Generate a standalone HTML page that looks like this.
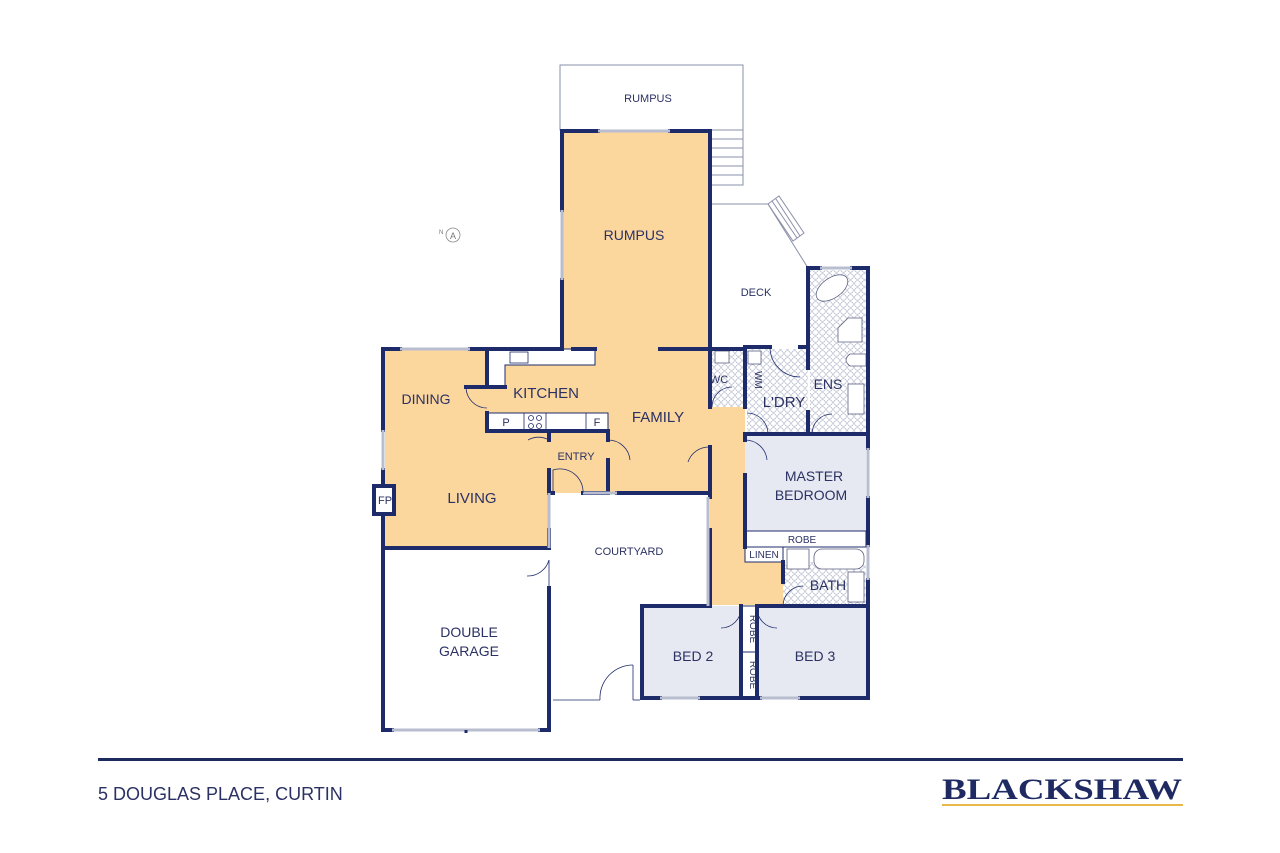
<!DOCTYPE html>
<html><head><meta charset="utf-8"><style>
html,body{margin:0;padding:0;background:#fff;}
svg{display:block;}
text{font-family:"Liberation Sans",sans-serif;fill:#2b3163;}
</style></head><body>
<svg width="1280" height="853" viewBox="0 0 1280 853" xmlns="http://www.w3.org/2000/svg">
<defs>
<pattern id="tile" width="7" height="7" patternUnits="userSpaceOnUse">
<rect width="7" height="7" fill="#fff"/>
<circle cx="3.5" cy="3.5" r="2.8" fill="none" stroke="#aab0c6" stroke-width="0.6"/>
</pattern>
</defs>

<rect x="560" y="65" width="183" height="65" fill="none" stroke="#8a8fa8" stroke-width="1"/>
<g stroke="#8a8fa8" stroke-width="1" fill="none">
<rect x="710" y="130" width="33" height="55"/>
<line x1="710" y1="139" x2="743" y2="139"/><line x1="710" y1="148" x2="743" y2="148"/>
<line x1="710" y1="157" x2="743" y2="157"/><line x1="710" y1="166" x2="743" y2="166"/>
<line x1="710" y1="175" x2="743" y2="175"/>
<polyline points="710,204 768,204 808,268"/>
<polygon points="768,204 779,196 804,233 793,241"/>
<line x1="772" y1="201" x2="797" y2="238"/><line x1="776" y1="199" x2="800" y2="236"/>
</g>

<g fill="#fbd79e">
<rect x="562" y="132" width="148" height="217"/>
<rect x="385" y="349" width="325" height="144"/>
<rect x="385" y="490" width="164" height="58"/>
<rect x="710" y="407" width="35" height="198"/>
<rect x="710" y="562" width="73" height="43"/>
</g>
<g fill="#fff" stroke="#1e2b6b" stroke-width="1">
<path d="M487,349 H595 V365 H505 V387 H487 Z"/>
<rect x="487" y="413" width="121" height="18"/>
</g>
<g stroke="#1e2b6b" stroke-width="0.8" fill="none">
<line x1="524" y1="413" x2="524" y2="431"/><line x1="546" y1="413" x2="546" y2="431"/><line x1="586" y1="413" x2="586" y2="431"/>
<rect x="510" y="352" width="18" height="11"/>
<circle cx="531" cy="418" r="2.5"/><circle cx="539" cy="418" r="2.5"/><circle cx="531" cy="426" r="2.5"/><circle cx="539" cy="426" r="2.5"/>
</g>
<rect x="712" y="349" width="33" height="58" fill="url(#tile)"/>
<rect x="747" y="349" width="61" height="85" fill="url(#tile)"/>
<rect x="810" y="270" width="56" height="164" fill="url(#tile)"/>
<rect x="783" y="562" width="83" height="44" fill="url(#tile)"/>
<g fill="#e6e9f1">
<rect x="745" y="434" width="121" height="97"/>
<rect x="642" y="606" width="99" height="92"/>
<rect x="757" y="606" width="111" height="92"/>
</g>
<g fill="#fff" stroke="#1e2b6b" stroke-width="1">
<rect x="745" y="531" width="121" height="16"/>
<rect x="745" y="547" width="38" height="15"/>
<rect x="741" y="606" width="16" height="46"/>
<rect x="741" y="652" width="16" height="46"/>
</g>
<g stroke="#5a6080" stroke-width="0.8" fill="#fff">
<ellipse cx="832" cy="288" rx="18" ry="10" transform="rotate(-35 832 288)"/>
<path d="M848,318 H862 V342 H838 V328 Z"/>
<path d="M850,354 H866 V366 H850 Q842,360 850,354 Z"/>
<rect x="848" y="384" width="16" height="30"/>
<rect x="715" y="351" width="14" height="12"/>
<rect x="748" y="351" width="13" height="13"/>
<rect x="787" y="549" width="22" height="20"/>
<rect x="814" y="549" width="50" height="20" rx="8"/>
<rect x="848" y="572" width="16" height="30"/>
</g>

<g stroke="#1e2b6b" stroke-width="4" fill="none" stroke-linecap="square">
<path d="M598,131 H562 V210"/><path d="M562,280 V347"/><path d="M670,131 H710 V348"/>
<path d="M383,349 H400"/><path d="M470,349 H562"/><path d="M573,349 H595"/>
<path d="M383,349 V430"/><path d="M383,470 V730 H392"/>
<path d="M660,349 H745"/>
<path d="M487,349 V387"/><path d="M466,387 H505"/>
<path d="M487,413 V431 H608"/>
<path d="M549,431 V440"/><path d="M549,470 V493 H553"/>
<path d="M608,431 V440"/><path d="M608,460 V493 H583"/><path d="M617,493 H708"/>
<path d="M549,548 H383"/><path d="M549,530 V548"/><path d="M549,588 V730 H540"/>
<path d="M710,348 V407"/><path d="M710,447 V497"/><path d="M710,530 V606 H642 V698 H660"/>
<path d="M700,698 H760"/><path d="M800,698 H868 V580"/><path d="M868,545 V498"/><path d="M868,448 V268 H852"/>
<path d="M808,268 H820"/><path d="M808,268 V368"/><path d="M808,412 V434 H868"/>
<path d="M745,348 V407"/><path d="M745,347 H770"/><path d="M800,347 H808"/>
<path d="M741,606 V698"/><path d="M757,606 V698"/>
<path d="M745,434 H812"/><path d="M745,434 V440"/><path d="M745,475 V547"/>
<path d="M757,606 H868"/><path d="M783,562 V582"/>
</g>
<rect x="374" y="486" width="20" height="28" fill="#fff" stroke="#1e2b6b" stroke-width="4"/>
<g stroke="#b8bdd0" stroke-width="3" fill="none">
<line x1="598" y1="131" x2="670" y2="131"/><line x1="562" y1="210" x2="562" y2="280"/>
<line x1="400" y1="349" x2="470" y2="349"/><line x1="383" y1="430" x2="383" y2="470"/>
<line x1="392" y1="730" x2="540" y2="730"/><line x1="868" y1="448" x2="868" y2="498"/>
<line x1="868" y1="545" x2="868" y2="580"/><line x1="660" y1="698" x2="700" y2="698"/>
<line x1="760" y1="698" x2="800" y2="698"/><line x1="820" y1="268" x2="852" y2="268"/>
<line x1="549" y1="493" x2="549" y2="548"/><line x1="708" y1="497" x2="708" y2="606"/>
<line x1="583" y1="493" x2="617" y2="493"/>
</g>
<line x1="466" y1="730" x2="466" y2="733" stroke="#1e2b6b" stroke-width="3"/>
<g stroke="#1e2b6b" stroke-width="0.8" fill="none">
<path d="M466,387 A21,21 0 0 0 487,408"/>
<path d="M549,440 A21,21 0 0 0 528,440"/>
<path d="M608,440 A22,22 0 0 1 630,460"/>
<path d="M553,493 V470 A23,23 0 0 1 583,493"/>
<path d="M710,447 A22,22 0 0 0 688,462"/>
<path d="M549,560 A22,22 0 0 1 527,576"/>
<path d="M549,588 V560"/>
<path d="M553,700 H600"/><path d="M633,700 H640"/>
<path d="M633,665 V700"/><path d="M633,665 A33,33 0 0 0 600,700"/>
<path d="M770,347 A30,30 0 0 0 800,377"/>
<path d="M745,440 A22,22 0 0 1 767,460"/>
<path d="M712,407 A20,20 0 0 1 732,387"/>
<path d="M747,413 A21,21 0 0 1 768,434"/>
<path d="M812,434 A20,20 0 0 1 832,414"/>
<path d="M783,606 A20,20 0 0 1 803,586"/>
<path d="M741,608 A20,20 0 0 1 721,628"/>
<path d="M757,608 A20,20 0 0 0 777,628"/>
</g>

<circle cx="453" cy="235" r="7" fill="none" stroke="#888" stroke-width="0.8"/>
<text x="453" y="239" font-size="9" text-anchor="middle" style="fill:#777">A</text>
<text x="439" y="234" font-size="6" style="fill:#777">N</text>

<g font-size="14" text-anchor="middle">
<text x="648" y="102" font-size="11">RUMPUS</text>
<text x="634" y="240">RUMPUS</text>
<text x="756" y="296" font-size="11">DECK</text>
<text x="546" y="398" font-size="15">KITCHEN</text>
<text x="426" y="404">DINING</text>
<text x="658" y="422" font-size="15">FAMILY</text>
<text x="576" y="460" font-size="11">ENTRY</text>
<text x="472" y="503" font-size="15">LIVING</text>
<text x="385" y="504" font-size="11">FP</text>
<text x="629" y="555" font-size="11">COURTYARD</text>
<text x="469" y="637">DOUBLE</text>
<text x="469" y="656">GARAGE</text>
<text x="693" y="661">BED 2</text>
<text x="815" y="661">BED 3</text>
<text x="814" y="481">MASTER</text>
<text x="811" y="500">BEDROOM</text>
<text x="802" y="543" font-size="10">ROBE</text>
<text x="764" y="558" font-size="10">LINEN</text>
<text x="828" y="590">BATH</text>
<text x="784" y="407" font-size="15">L'DRY</text>
<text x="828" y="389">ENS</text>
<text x="719" y="383" font-size="11">WC</text>
<text x="506" y="426" font-size="11">P</text>
<text x="597" y="426" font-size="11">F</text>
</g>
<g font-size="10" text-anchor="middle">
<text transform="translate(749,629) rotate(90)" y="-1">ROBE</text>
<text transform="translate(749,675) rotate(90)" y="-1">ROBE</text>
<text transform="translate(754,380) rotate(90)" y="-1">WM</text>
</g>

<rect x="98" y="758" width="1085" height="3" fill="#1e2b5e"/>
<text x="98" y="800" font-size="18" style="fill:#2b3163">5 DOUGLAS PLACE, CURTIN</text>
<text x="1062" y="799" font-size="30" font-weight="bold" text-anchor="middle" textLength="240" lengthAdjust="spacingAndGlyphs" style="font-family:'Liberation Serif',serif;fill:#1f2a63">BLACKSHAW</text>
<rect x="942" y="804" width="241" height="2" fill="#e8b84a"/>
</svg>
</body></html>
